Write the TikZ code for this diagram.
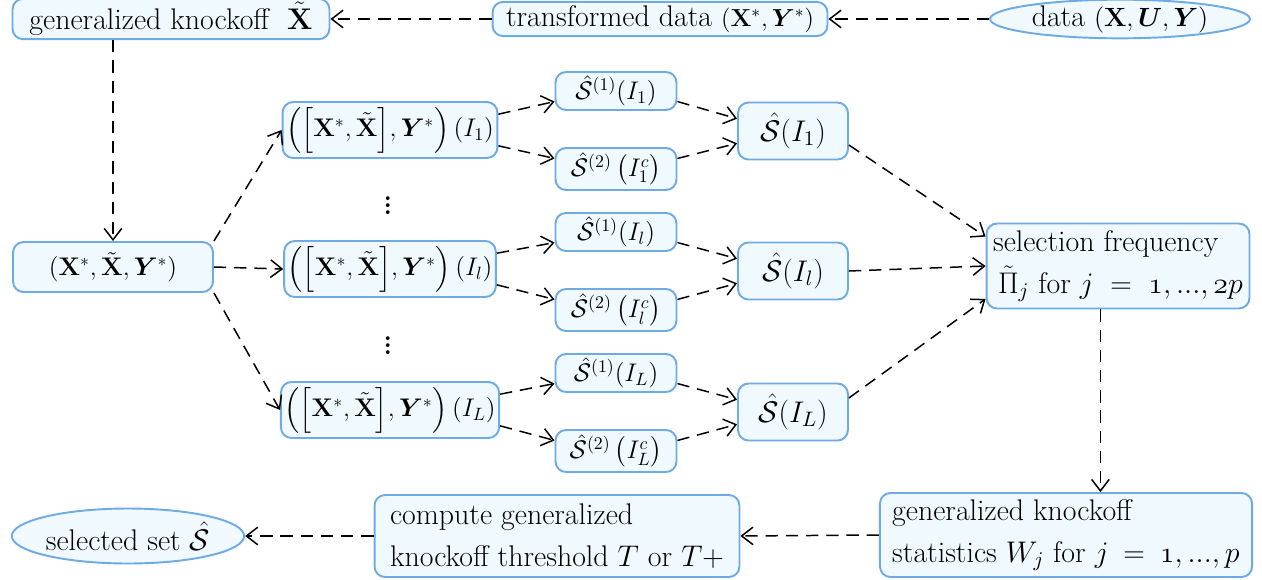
\RequirePackage{fix-cm}
\documentclass[tikz,border=0pt]{standalone}
\usepackage{amsmath,amssymb,bm}
\usetikzlibrary{shapes.geometric,arrows.meta,positioning}
\definecolor{bdr}{RGB}{110,170,228}
\definecolor{bg}{RGB}{240,250,254}

\begin{document}
\begin{tikzpicture}[x=0.02cm,y=-0.02cm,font=\fontsize{17}{24}\selectfont,
	blk/.style={draw=bdr,fill=bg,rounded corners=6pt,line width=1.1pt,inner sep=2pt},
	ovl/.style={draw=bdr,fill=bg,ellipse,line width=1.1pt,inner sep=0pt},
	mth/.style={font=\fontsize{14.5}{18}\selectfont},
	flow/.style={line width=0.85pt,dash pattern=on 7pt off 4.5pt,-{Straight Barb[length=6.5pt,width=10pt]}}]
				\useasboundingbox (0,0) rectangle (1262,579);
				% top row
				\node (data) [ovl,minimum width=5.2cm,minimum height=0.72cm] at (1120,19) {data~{\fontsize{15}{18}\selectfont$(\mathbf{X},\bm{U},\bm{Y})$}};
				\node (td) [blk,minimum width=6.7cm,minimum height=0.64cm] at (660,19) {transformed data~{\fontsize{14}{16}\selectfont$(\mathbf{X}^{*},\bm{Y}^{*})$}};
				\node (gk) [blk,minimum width=6.34cm,minimum height=0.66cm] at (171,19) {generalized knockoff~~$\tilde{\mathbf{X}}$};
				\node (xt) [blk,mth,minimum width=4cm,minimum height=1cm] at (113,267) {$(\mathbf{X}^{*},\tilde{\mathbf{X}},\bm{Y}^{*})$};
				% subsamples
				\node (p1) [blk,mth,minimum width=4.22cm,minimum height=1.12cm] at (390,130) {$\Big(\Big[\mathbf{X}^{*},\tilde{\mathbf{X}}\Big],\bm{Y}^{*}\Big)\,(I_1)$};
				\node (pl) [blk,mth,minimum width=4.22cm,minimum height=1.12cm] at (390,269) {$\Big(\Big[\mathbf{X}^{*},\tilde{\mathbf{X}}\Big],\bm{Y}^{*}\Big)\,(I_l)$};
				\node (pL) [blk,mth,minimum width=4.22cm,minimum height=1.12cm] at (390,410) {$\Big(\Big[\mathbf{X}^{*},\tilde{\mathbf{X}}\Big],\bm{Y}^{*}\Big)\,(I_L)$};
				\node (dots1) [font=\fontsize{26}{26}\selectfont] at (388,200) {$\vdots$}; \node (dots2) [font=\fontsize{26}{26}\selectfont] at (388,340) {$\vdots$};
				\node (s11) [blk,mth,minimum width=2.42cm,minimum height=0.76cm] at (616,91) {$\hat{\mathcal{S}}^{(1)}(I_1)$};
				\node (s12) [blk,mth,minimum width=2.42cm,minimum height=0.84cm] at (616,169) {$\hat{\mathcal{S}}^{(2)}\,\big(I_1^{c}\big)$};
				\node (sl1) [blk,mth,minimum width=2.42cm,minimum height=0.76cm] at (616,232) {$\hat{\mathcal{S}}^{(1)}(I_l)$};
				\node (sl2) [blk,mth,minimum width=2.42cm,minimum height=0.84cm] at (616,310) {$\hat{\mathcal{S}}^{(2)}\,\big(I_l^{c}\big)$};
				\node (sL1) [blk,mth,minimum width=2.42cm,minimum height=0.76cm] at (616,373) {$\hat{\mathcal{S}}^{(1)}(I_L)$};
				\node (sL2) [blk,mth,minimum width=2.42cm,minimum height=0.84cm] at (616,451) {$\hat{\mathcal{S}}^{(2)}\,\big(I_L^{c}\big)$};
				\node (s1) [blk,minimum width=2.2cm,minimum height=1.14cm] at (793,131) {$\hat{\mathcal{S}}(I_1)$};
				\node (sl) [blk,minimum width=2.2cm,minimum height=1.14cm] at (793,271) {$\hat{\mathcal{S}}(I_l)$};
				\node (sL) [blk,minimum width=2.2cm,minimum height=1.14cm] at (793,412) {$\hat{\mathcal{S}}(I_L)$};
				% aggregation and output
				\node (sf) [blk,align=left,minimum width=5.26cm,minimum height=1.7cm] at (1118,266) {selection frequency\\ \,$\tilde{\Pi}_j$~for~$j\;=\;\mathnormal{1},{...},\mathnormal{2}p$};
				\node (gks) [blk,align=left,inner xsep=7pt,minimum width=7.36cm,minimum height=1.68cm] at (1066,535) {generalized knockoff\\ statistics $W_j$ for~$j\:=\:\mathnormal{1},{...},p$};
				\node (ct) [blk,align=left,inner xsep=6pt,minimum width=7.3cm,minimum height=1.64cm] at (557,536) {compute generalized\\ knockoff threshold $T$ or $T{+}$};
				\node (ss) [ovl,minimum width=4.58cm,minimum height=1.1cm] at (128,536) {selected set~$\hat{\mathcal{S}}$};
				% connectors
				\draw [flow] (data) -- (td); \draw [flow] (td) -- (gk);
				\draw [flow] (gk.south -| xt.north) -- (xt.north);
				\draw [flow] (xt.north east) -- (p1.west); \draw [flow] (xt.east) -- (pl.west); \draw [flow] (xt.south east) -- (pL.west);
				\foreach \p/\a/\b/\s in {p1/s11/s12/s1,pl/sl1/sl2/sl,pL/sL1/sL2/sL} {
					\draw [flow] ([yshift=9pt]\p.east) -- ([yshift=-6pt]\a.west); \draw [flow] ([yshift=-9pt]\p.east) -- ([yshift=6pt]\b.west);
					\draw [flow] ([yshift=-6pt]\a.east) -- ([yshift=7pt]\s.west); \draw [flow] ([yshift=6pt]\b.east) -- ([yshift=-7pt]\s.west);
				}
				\draw [flow] ([yshift=-8pt]s1.east) -- ([yshift=-8pt]sf.north west); \draw [flow] (sl.east) -- (sf.west); \draw [flow] ([yshift=8pt]sL.east) -- ([yshift=6pt]sf.south west);
				\coordinate (fk) at ([xshift=-10pt]sf.south); \draw [flow] (fk) -- (fk |- gks.north);
				\draw [flow] (gks.west) -- (ct.east); \draw [flow] (ct.west) -- (ss.east);
			\end{tikzpicture}
\end{document}
